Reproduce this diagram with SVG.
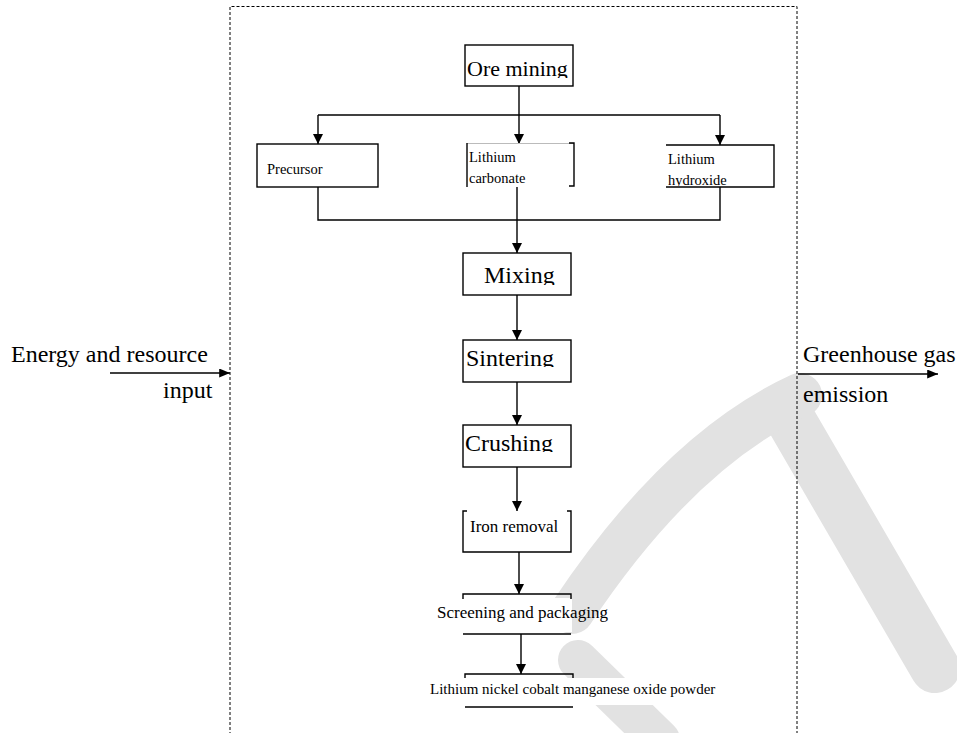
<svg xmlns="http://www.w3.org/2000/svg" width="957" height="733" viewBox="0 0 957 733">
  <defs>
    <marker id="arrow" viewBox="0 0 10 10" refX="10" refY="5" markerWidth="10" markerHeight="10" markerUnits="userSpaceOnUse" orient="auto">
      <path d="M0,0 L10,5 L0,10 Z" fill="#000"/>
    </marker>
    <marker id="arrowSmall" viewBox="0 0 12 10" refX="12" refY="5" markerWidth="12" markerHeight="9" markerUnits="userSpaceOnUse" orient="auto">
      <path d="M0,0 L12,5 L0,10 Z" fill="#000"/>
    </marker>
    <clipPath id="clipOre"><rect x="460" y="40" width="120" height="38"/></clipPath>
    <clipPath id="clipMix"><rect x="460" y="250" width="120" height="35"/></clipPath>
    <clipPath id="clipSin"><rect x="460" y="335" width="120" height="32"/></clipPath>
    <clipPath id="clipCru"><rect x="460" y="420" width="120" height="32"/></clipPath>
    <clipPath id="clipHyd"><rect x="660" y="140" width="120" height="46"/></clipPath>
  </defs>
  <style>
    text { font-family: "Liberation Serif", "Times New Roman", serif; fill: #000; }
    .box { fill: #fff; stroke: #000; stroke-width: 1.4; }
    .edge { fill: none; stroke: #000; stroke-width: 1.4; }
    .faint { fill: none; stroke: #bbb; stroke-width: 1; }
    .wire { fill: none; stroke: #000; stroke-width: 1.4; }
    .boundary { fill: none; stroke: #000; stroke-width: 1; stroke-dasharray: 3 2; }
    .mark { fill: none; stroke: #e2e2e2; stroke-linecap: round; stroke-linejoin: round; }
    .pad { fill: #fff; }
    .big { font-size: 24px; }
    .mid { font-size: 17px; }
    .small { font-size: 14.5px; }
  </style>

  <rect width="957" height="733" fill="#fff"/>

  <!-- light grey background mark -->
  <g id="background-mark">
    <path class="mark" stroke-width="50" d="M785,410 L935,668"/>
    <path class="mark" stroke-width="44" d="M800,395 Q680,450 572,612"/>
    <path class="mark" stroke-width="40" d="M578,660 L660,740"/>
  </g>

  <!-- system boundary -->
  <g id="boundary">
    <path class="boundary" d="M230,740 V6.5 H797 V740"/>
  </g>

  <!-- connectors -->
  <g id="connectors">
    <path class="wire" d="M519,86 V115"/>
    <path class="wire" d="M318,115 H720"/>
    <path class="wire" d="M318,115 V144" marker-end="url(#arrow)"/>
    <path class="wire" d="M519,115 V144" marker-end="url(#arrow)"/>
    <path class="wire" d="M720,115 V145" marker-end="url(#arrow)"/>
    <path class="wire" d="M318,187 V220 H720 V187"/>
    <path class="wire" d="M517,187 V253" marker-end="url(#arrow)"/>
    <path class="wire" d="M517,295 V340" marker-end="url(#arrow)"/>
    <path class="wire" d="M517,382 V425" marker-end="url(#arrow)"/>
    <path class="wire" d="M517,467 V511" marker-end="url(#arrow)"/>
    <path class="wire" d="M519,552 V594" marker-end="url(#arrow)"/>
    <path class="wire" d="M521,634 V674" marker-end="url(#arrow)"/>
    <path class="wire" d="M110,373 H230" marker-end="url(#arrowSmall)"/>
    <path class="wire" d="M798,374 H938" marker-end="url(#arrowSmall)"/>
  </g>

  <g id="ore-mining">
    <rect class="box" x="465" y="45" width="108" height="41"/>
    <text x="467" y="76" font-size="22" clip-path="url(#clipOre)">Ore mining</text>
  </g>

  <g id="precursor">
    <rect class="box" x="257" y="144" width="121" height="43"/>
    <text class="small" x="267" y="174">Precursor</text>
  </g>

  <g id="lithium-carbonate">
    <path class="faint" d="M467,143.5 H574"/>
    <path class="edge" d="M467,143 V187"/>
    <path class="edge" d="M569,143 H574 V186 H569"/>
    <text class="small" x="469" y="162">Lithium</text>
    <text class="small" x="469" y="183">carbonate</text>
  </g>

  <g id="lithium-hydroxide">
    <path class="edge" d="M666,145 H774 V187 H666"/>
    <text class="small" x="668" y="164">Lithium</text>
    <text class="small" x="668" y="185" clip-path="url(#clipHyd)">hydroxide</text>
  </g>

  <g id="mixing">
    <rect class="box" x="463" y="253" width="108" height="42"/>
    <text class="big" x="484" y="283" clip-path="url(#clipMix)">Mixing</text>
  </g>

  <g id="sintering">
    <rect class="box" x="463" y="340" width="108" height="42"/>
    <text class="big" x="466" y="366" clip-path="url(#clipSin)">Sintering</text>
  </g>

  <g id="crushing">
    <rect class="box" x="463" y="425" width="108" height="42"/>
    <text class="big" x="465" y="451" clip-path="url(#clipCru)">Crushing</text>
  </g>

  <g id="iron-removal">
    <path class="edge" d="M467,511 H463 V552 H571 V511 H567"/>
    <text class="mid" x="470" y="532">Iron removal</text>
  </g>

  <g id="screening-packaging">
    <rect class="pad" x="432" y="598" width="140" height="34"/>
    <path class="edge" d="M463,599 V594 H571 V599"/>
    <path class="edge" d="M463,634 H571"/>
    <text class="mid" x="437" y="618">Screening and packaging</text>
  </g>

  <g id="ncm-powder">
    <rect class="pad" x="426" y="678" width="292" height="27"/>
    <path class="edge" d="M465,678 V674 H573 V678"/>
    <path class="edge" d="M465,707 H573"/>
    <text x="430" y="694" font-size="15">Lithium nickel cobalt manganese oxide powder</text>
  </g>

  <g id="input-label">
    <text class="big" x="11" y="362">Energy and resource</text>
    <text class="big" x="163" y="398">input</text>
  </g>

  <g id="emission-label">
    <text class="big" x="803" y="362">Greenhouse gas</text>
    <text class="big" x="803" y="402">emission</text>
  </g>
</svg>
